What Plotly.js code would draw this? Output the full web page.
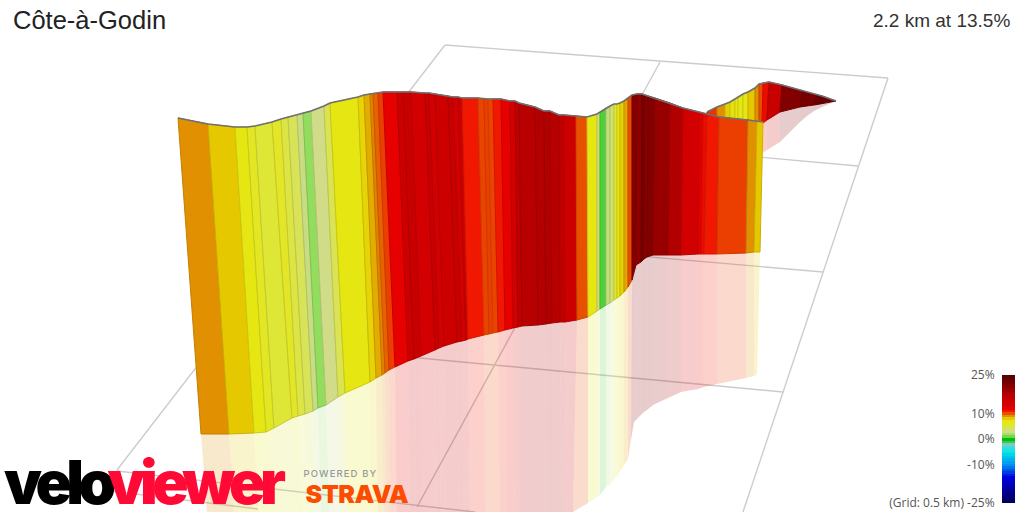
<!DOCTYPE html>
<html><head><meta charset="utf-8">
<script src="https://cdn.plot.ly/plotly-3.0.1.min.js"></script>
<style>
html,body{margin:0;padding:0;background:#fff}
.annotation[data-index="0"] .annotation-text,.annotation[data-index="1"] .annotation-text{letter-spacing:-5.5px}
.annotation[data-index="2"] .annotation-text{letter-spacing:1.1px}
.annotation[data-index="3"] .annotation-text{letter-spacing:-0.5px}
</style></head><body><div id="chart" style="width:1024px;height:512px"></div>
<script>
const titleText='Côte-à-Godin';
const summaryText='2.2 km at 13.5%';
// near wall, one entry per strip boundary (picture-plane readings)
const topX=[178,208,235,247,255,272,281,288,297,303,311,324,330,358,364,370,373,378,383,397,403,411,425,429,435,448,453,458,462,478,484,488,493,501,510,515,519,535,544,550,559,564,576,587,597,600,606,610,614,617,620,624,628,632,637,642,645,648,655,670,683,699,703,707,719,748,757,763];
const topY=[118,124,127,127,126,122,119,117,115,113,111,106,103,97,95,94,93.5,93,92,92,92,92,93,93,94,96,97,97,98,98,99,99,99,99,101,101,103,107,111,111,115,115,116,117,114,112,108,106,104,104,103,101,98,95,94,94,95,96,98,103,108,112,113,114,117,120,121,122];
const botX=[201,229,254,266,274,292,298,305,313,318,326,338,345,370,376,382,385,389,395,408,414,421,435,439,444,457,462,466,468,484,489,493,498,505,513,518,522,538,546,552,560,565,577,588,597,600,606,610,614,617,620,624,628,632,636,641,644,647,653,668,681,698,701,704,717,746,754,760];
const botY=[434,434,433,432,428,418,416,414,411,408,405,397,393,382,378,375,373,370,367,361,359,356,350,348,346,342,341,340,339,335,334,333,332,330,328,327,326,325,324,323,322,322,320,317,311,309,305,303,300,298,296,292,287,280,265,262,259,257,255,255,255,254,254,254,254,253,252,252];
const refX=[209,236,260,272,280,298,303,310,318,322,330,342,348,372,378,384,387,391,397,410,416,423,437,441,446,459,464,468,470,486,491,495,500,507,515,520,524,540,548,554,562,566,573,588,597,600,606,610,614,617,620,624,628,631,634,641,644,647,653,668,681,698,701,704,717,746,754,757];
const refY=[540,540,540,540,540,540,540,540,540,540,540,540,540,540,540,540,540,540,540,540,540,540,540,540,540,540,540,540,540,540,540,540,540,540,540,540,540,540,540,540,540,530,512,503,497,495,487,484,480,476,472,465,459,440,422,415,412,410,405,398,392,389,388,387,384,378,376,375];
const gradeFront=[9,8,7,6.2,5.3,6,4.8,4.3,2.8,1.6,3,4.4,7,7.6,8.5,9.2,9.7,10.3,12,14.5,15,14,15,14,14.5,15,14,14.5,11,10.2,10.3,10.2,11,12,14,16,17,17.5,18,17,16,14.5,10,7,3.5,0.7,2.6,3.6,5,7,7.7,8.6,10,21,20,22,20.5,21,19.5,18,14,12.5,11.5,11,10.3,9,8];
// far wall, behind the near wall
const backTopX=[707,708,717,725,730,735,738,743,748,755,759,763,769,782,803,810,817,822,836];
const backTopY=[112,111.5,107,104,102,99,97,94,92,88,84,83,82,85,91,93,95,96,101];
const backBotX=[707,708,717,725,730,735,738,743,748,755,759,762,767,780,800,807,814,820,836];
const backBotY=[125,125,125,125,125,125,125,125,125,125,125,124,120,112,107,106,105,104,101];
const backRefX=[707,708,717,725,730,735,738,743,748,755,759,762,767,780,800,807,814,820,836];
const backRefY=[160,160,160,160,160,160,160,160,160,160,158,153,150,142,122,116,111,108,101];
const gradeBack=[13,10.5,9,7.8,7.2,7,6.8,7,8,9,10,11.5,15,21,22,21.5,23,23];
// ground grid, segments separated by null
const gridX=[445,888,null,888,743,null,445,117,null,660,417,null,390,858,null,500,823,null,217,783,null,117,475,null,103,258];
const gridY=[45,78,null,78,512,null,45,470,null,62,507,null,124,166,null,244,272,null,339,392,null,471,512,null,490,509];
// gradient scale
const scaleGrades=[-25,-15,-10,-5,-2,-0.5,0,1,2,3,5,7,8,9,10,11,12,15,18,20,25];
const scaleColors=['#000050','#0000e0','#0090f0','#00e8e8','#70d0c8','#20c020','#00c000','#70d850','#a8e068','#d0dc88','#dde63c','#e6e612','#e6c800','#e09000','#e85000','#f01800','#e60000','#c80000','#b00000','#900000','#500000'];
const barLevels=[-25,-24,-23,-22,-21,-20,-19,-18,-17,-16,-15,-14,-13,-12,-11,-10,-9,-8,-7,-6,-5,-4,-3,-2,-1,0,1,2,3,4,5,6,7,8,9,10,11,12,13,14,15,16,17,18,19,20,21,22,23,24,25];
const barTicks=[25,10,0,-10,-25];
const barTickText=['25%','10%','0%','-10%','(Grid: 0.5 km) -25%'];

function hex(c){return [1,3,5].map(i=>parseInt(c.substr(i,2),16));}
function colour(g,a,k){
  let i=0; while(i<scaleGrades.length-2&&g>scaleGrades[i+1])i++;
  const t=Math.max(0,Math.min(1,(g-scaleGrades[i])/(scaleGrades[i+1]-scaleGrades[i])));
  const p=hex(scaleColors[i]),q=hex(scaleColors[i+1]);
  const m=p.map((v,j)=>Math.round((v+(q[j]-v)*t)*k));
  return `rgba(${m[0]},${m[1]},${m[2]},${a})`;
}
function strip(xa,ya,xb,yb,i,g,a,edge){
  return {type:'scatter',mode:'lines',x:[xa[i],xa[i+1],xb[i+1],xb[i],xa[i]],y:[ya[i],ya[i+1],yb[i+1],yb[i],ya[i]],
    fill:'toself',fillcolor:colour(g,a,1),line:{color:edge,width:1},hoverinfo:'skip',showlegend:false};
}
const traces=[];
traces.push({type:'scatter',mode:'lines',x:gridX,y:gridY,line:{color:'#cccccc',width:1.4},hoverinfo:'skip',showlegend:false,connectgaps:false});
gradeBack.forEach((g,i)=>traces.push(strip(backBotX,backBotY,backRefX,backRefY,i,g,0.2,'rgba(0,0,0,0)')));
gradeFront.forEach((g,i)=>traces.push(strip(botX,botY,refX,refY,i,g,0.2,'rgba(0,0,0,0)')));
gradeBack.forEach((g,i)=>traces.push(strip(backTopX,backTopY,backBotX,backBotY,i,g,1,colour(g,1,0.88))));
traces.push({type:'scatter',mode:'lines',x:backTopX,y:backTopY,line:{color:'#707070',width:1.6},hoverinfo:'skip',showlegend:false});
gradeFront.forEach((g,i)=>traces.push(strip(topX,topY,botX,botY,i,g,1,colour(g,1,0.88))));
traces.push({type:'scatter',mode:'lines',x:topX,y:topY,line:{color:'#707070',width:1.6},hoverinfo:'skip',showlegend:false});
traces.push({type:'heatmap',xaxis:'x2',yaxis:'y2',x:[0],y:barLevels,z:barLevels.map(v=>[v]),zmin:-25,zmax:25,showscale:false,hoverinfo:'skip',
  colorscale:scaleGrades.map((g,i)=>[(g+25)/50,scaleColors[i]])});

const logoFont='Inter, "Liberation Sans", sans-serif';
const layout={
  width:1024,height:512,margin:{l:0,r:0,t:0,b:0},paper_bgcolor:'#fff',plot_bgcolor:'rgba(0,0,0,0)',showlegend:false,
  title:{text:titleText,x:13/1024,xanchor:'left',y:1-20/512,yanchor:'middle',font:{family:'"Liberation Sans", Arial, sans-serif',size:25.5,color:'#222'}},
  xaxis:{range:[0,1024],visible:false,fixedrange:true,domain:[0,1]},
  yaxis:{range:[512,0],visible:false,fixedrange:true,domain:[0,1]},
  xaxis2:{domain:[1002/1024,1015/1024],anchor:'y2',visible:false,fixedrange:true,range:[-0.5,0.5]},
  yaxis2:{domain:[9/512,137/512],anchor:'x2',range:[-25,25],fixedrange:true,showgrid:false,zeroline:false,showline:false,
    tickmode:'array',tickvals:barTicks,ticktext:barTickText,ticks:'outside',ticklen:4,tickcolor:'rgba(0,0,0,0)',
    tickfont:{family:'"Open Sans", sans-serif',size:12,color:'#555'}},
  annotations:[
    {text:'velo',xref:'x',yref:'y',x:57,y:482,xanchor:'center',yanchor:'middle',showarrow:false,font:{family:logoFont,size:60,weight:900,color:'#000'}},
    {text:'viewer',xref:'x',yref:'y',x:194,y:482,xanchor:'center',yanchor:'middle',showarrow:false,font:{family:logoFont,size:60,weight:900,color:'#ff0a37'}},
    {text:'POWERED BY',xref:'x',yref:'y',x:340,y:473,xanchor:'center',yanchor:'middle',showarrow:false,font:{family:'Inter, sans-serif',size:9.5,weight:500,color:'#999'}},
    {text:'STRAVA',xref:'x',yref:'y',x:357,y:494,xanchor:'center',yanchor:'middle',showarrow:false,font:{family:logoFont,size:25,weight:900,color:'#fc4c02'}},
    {text:summaryText,xref:'x',yref:'y',x:1012,y:20,xanchor:'right',yanchor:'middle',showarrow:false,font:{family:'"Liberation Sans", Arial, sans-serif',size:19,color:'#333'}}
  ]
};
Plotly.newPlot('chart',traces,layout,{displayModeBar:false,staticPlot:true});
</script></body></html>
